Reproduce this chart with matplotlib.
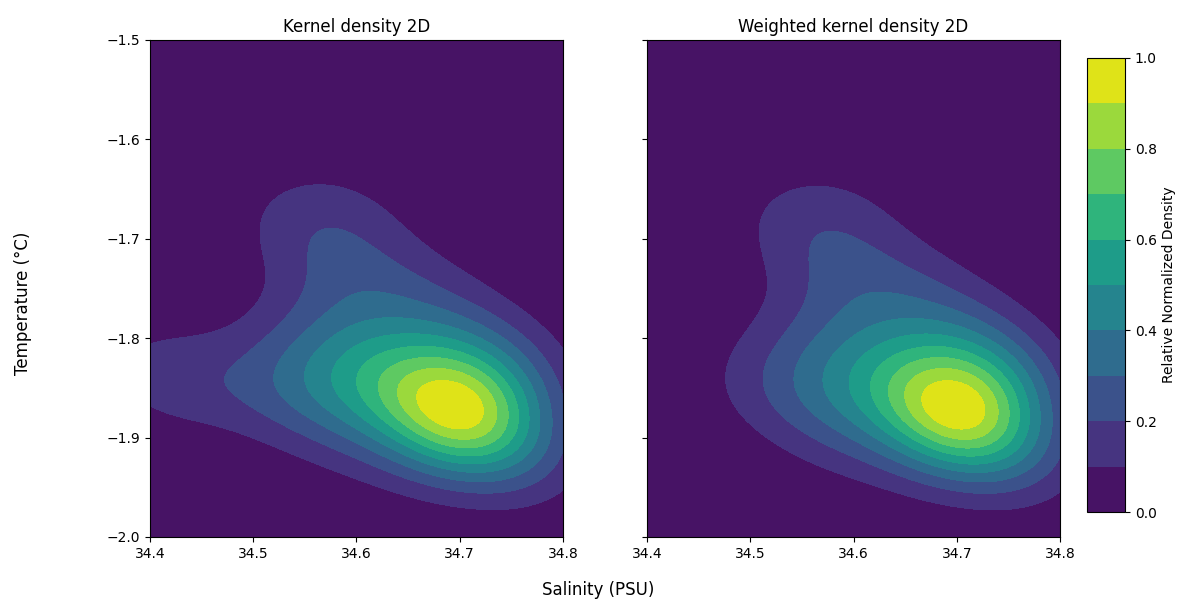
import numpy as np
import matplotlib.pyplot as plt

# sample points (salinity, temperature); weights used for the weighted KDE
salinity = [34.705, 34.695, 34.715, 34.685, 34.725, 34.705, 34.690, 34.695,
            34.705, 34.675, 34.735, 34.655, 34.690, 34.730, 34.750,
            34.650, 34.630, 34.605, 34.575, 34.540, 34.500,
            34.630, 34.590, 34.550,
            34.600, 34.575, 34.540, 34.590, 34.640, 34.690,
            34.440, 34.395,
            34.650, 34.740, 34.760, 34.580]
temperature = [-1.880, -1.873, -1.887, -1.883, -1.875, -1.895, -1.868, -1.893,
               -1.855, -1.850, -1.860, -1.825, -1.815, -1.820, -1.835,
               -1.862, -1.855, -1.850, -1.848, -1.850, -1.850,
               -1.815, -1.810, -1.805,
               -1.765, -1.725, -1.685, -1.675, -1.740, -1.775,
               -1.840, -1.838,
               -1.910, -1.910, -1.920, -1.890]
weights = [1.0, 1.0, 1.2, 0.9, 1.2, 1.0, 1.1, 1.0,
           1.1, 1.0, 1.2, 1.0, 1.0, 1.3, 1.3,
           0.9, 0.8, 0.8, 0.8, 0.9, 0.7,
           0.9, 0.8, 0.8,
           1.0, 1.0, 1.0, 1.0, 1.2, 1.3,
           0.0, 0.0,
           0.9, 1.1, 1.1, 1.3]

bw_sal = 0.05
bw_temp = 0.04
bw_rho = -0.15

sal_grid = np.linspace(34.4, 34.8, 250)
temp_grid = np.linspace(-2.0, -1.5, 250)
S, T = np.meshgrid(sal_grid, temp_grid)


def kde2d(w):
    z = np.zeros_like(S)
    for s, t, wi in zip(salinity, temperature, w):
        u = (S - s) / bw_sal
        v = (T - t) / bw_temp
        q = (u ** 2 - 2 * bw_rho * u * v + v ** 2) / (1 - bw_rho ** 2)
        z += wi * np.exp(-0.5 * q)
    return z / z.max()


dens = kde2d(np.ones(len(salinity)))
dens_w = kde2d(weights)

levels = np.linspace(0, 1, 11)

fig = plt.figure(figsize=(11.96, 6.06), dpi=100)
ax1 = fig.add_axes([0.1254, 0.1139, 0.3453, 0.8201])
ax2 = fig.add_axes([0.5410, 0.1139, 0.3453, 0.8201])
cax = fig.add_axes([0.9089, 0.1551, 0.0318, 0.7492])

cf = ax1.contourf(S, T, dens, levels=levels, cmap='viridis')
ax2.contourf(S, T, dens_w, levels=levels, cmap='viridis')

ax1.set_title('Kernel density 2D', fontsize=12)
ax2.set_title('Weighted kernel density 2D', fontsize=12)
for ax in (ax1, ax2):
    ax.set_xlim(34.4, 34.8)
    ax.set_ylim(-2.0, -1.5)
    ax.set_xticks([34.4, 34.5, 34.6, 34.7, 34.8])
    ax.set_yticks([-2.0, -1.9, -1.8, -1.7, -1.6, -1.5])
ax2.set_yticklabels([])

cb = fig.colorbar(cf, cax=cax)
cb.set_ticks([0, 0.2, 0.4, 0.6, 0.8, 1.0])
cb.set_label('Relative Normalized Density')

fig.text(0.5, 0.018, 'Salinity (PSU)', ha='center', fontsize=12)
fig.text(0.012, 0.5, 'Temperature (°C)', va='center', rotation=90, fontsize=12)

fig.savefig('out.png', dpi=100)
